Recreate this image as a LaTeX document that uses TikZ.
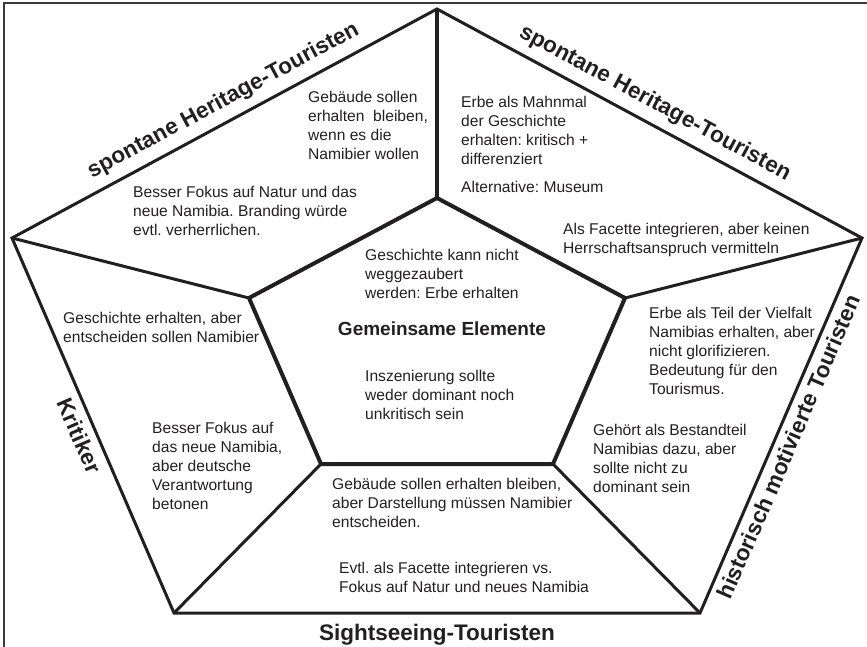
\documentclass[tikz,border=0pt]{standalone}
\usepackage{fontspec}
\setmainfont{Liberation Sans}
\frenchspacing
\definecolor{ink}{HTML}{231F20}
\definecolor{framegray}{HTML}{3A3A3A}
\begin{document}
\begin{tikzpicture}[x=1pt,y=-1pt,
  txt/.style={anchor=north west, inner sep=0pt, align=left, text=ink,
              font=\fontsize{15.6}{19}\selectfont},
  lab/.style={inner sep=0pt, text=ink, font=\bfseries\fontsize{22.5}{27}\selectfont},
  centerlab/.style={inner sep=0pt, text=ink, font=\bfseries\fontsize{19}{23}\selectfont},
  outerline/.style={draw=ink, line width=3pt, line join=miter},
  innerline/.style={draw=ink, line width=4pt, line join=miter},
  spoke/.style={draw=ink, line width=3pt},
  topspoke/.style={draw=ink, line width=3.5pt},
  frameline/.style={draw=framegray, line width=2pt}]

\useasboundingbox (0,0) rectangle (867,647);

% page frame (only its top and left sides lie inside the page)
\draw[frameline] (4,660) -- (4,3) -- (880,3);

% outer pentagon corners
\coordinate (OT)  at (437,9);
\coordinate (OR)  at (862,238);
\coordinate (OBR) at (700,613);
\coordinate (OBL) at (174,613);
\coordinate (OL)  at (12,238);

% inner pentagon corners
\coordinate (IT)  at (437,198);
\coordinate (IR)  at (625,298);
\coordinate (IBR) at (553,464);
\coordinate (IBL) at (321,464);
\coordinate (IL)  at (249,298);

% spokes joining the two pentagons
\draw[topspoke] (OT) -- (IT);
\draw[spoke] (OR) -- (IR);
\draw[spoke] (OBR) -- (IBR);
\draw[spoke] (OBL) -- (IBL);
\draw[spoke] (OL) -- (IL);

\draw[outerline] (OT) -- (OR) -- (OBR) -- (OBL) -- (OL) -- cycle;
\draw[innerline] (IT) -- (IR) -- (IBR) -- (IBL) -- (IL) -- cycle;

% group names along the outer edges
\path (OL) -- (OT) node[lab, sloped, pos=0.52, above=9.5pt] (labTL) {spontane Heritage-Touristen};
\path (OT) -- (OR) node[lab, sloped, pos=0.49, above=9.5pt] (labTR) {spontane Heritage-Touristen};
\path (OBR) -- (OR) node[lab, sloped, pos=0.46, below=7pt] (labR) {historisch motivierte Touristen};
\path (OL) -- (OBL) node[lab, sloped, pos=0.51, below=8pt] (labL) {Kritiker};
\path (OBL) -- (OBR) node[lab, midway, below=11pt] (labB) {Sightseeing-Touristen};

% common core
\node[centerlab] (core) at (442,329) {Gemeinsame Elemente};
\node[txt] (c1) at (365,249) {Geschichte kann nicht\\weggezaubert\\werden: Erbe erhalten};
\node[txt] (c2) at (365,370) {Inszenierung sollte\\weder dominant noch\\unkritisch sein};

% upper left sector
\node[txt] (tl1) at (308,91) {Gebäude sollen\\erhalten\ \ bleiben,\\wenn es die\\Namibier wollen};
\node[txt] (tl2) at (133,186) {Besser Fokus auf Natur und das\\neue Namibia. Branding würde\\evtl. verherrlichen.};

% upper right sector
\node[txt] (tr1) at (461,96) {Erbe als Mahnmal\\der Geschichte\\erhalten: kritisch +\\differenziert};
\node[txt] (tr2) at (461,181) {Alternative: Museum};
\node[txt] (tr3) at (563,223) {Als Facette integrieren, aber keinen\\Herrschaftsanspruch vermitteln};

% right sector
\node[txt] (r1) at (649,307) {Erbe als Teil der Vielfalt\\Namibias erhalten, aber\\nicht glorifizieren.\\Bedeutung für den\\Tourismus.};
\node[txt] (r2) at (593,424) {Gehört als Bestandteil\\Namibias dazu, aber\\sollte nicht zu\\dominant sein};

% left sector
\node[txt] (l1) at (63,312) {Geschichte erhalten, aber\\entscheiden sollen Namibier};
\node[txt] (l2) at (152,422) {Besser Fokus auf\\das neue Namibia,\\aber deutsche\\Verantwortung\\betonen};

% bottom sector
\node[txt] (b1) at (332,478) {Gebäude sollen erhalten bleiben,\\aber Darstellung müssen Namibier\\entscheiden.};
\node[txt] (b2) at (339,562) {Evtl. als Facette integrieren vs.\\Fokus auf Natur und neues Namibia};

\end{tikzpicture}
\end{document}
